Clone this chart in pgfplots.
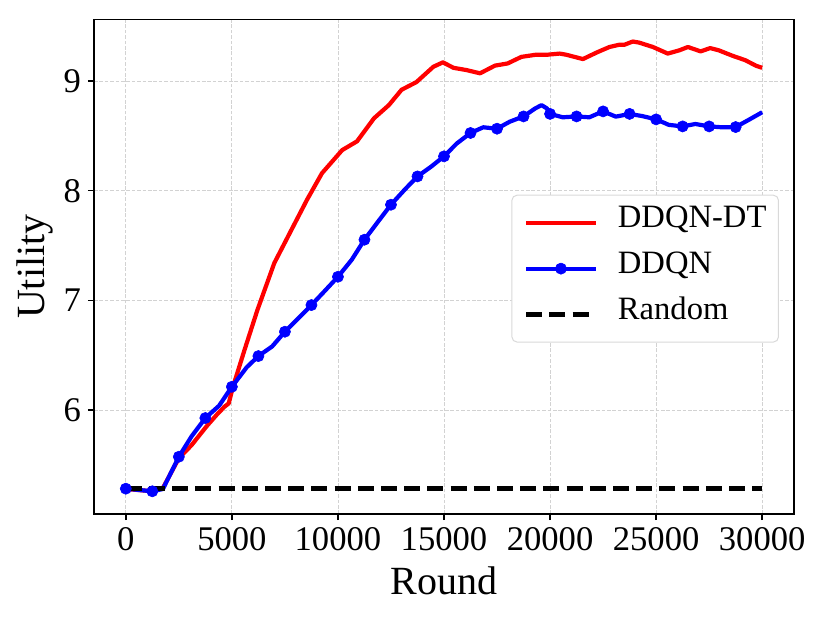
\documentclass[border=0pt]{standalone}
\usepackage{fontspec}
\setmainfont{Liberation Serif}
\usepackage{pgfplots}
\pgfplotsset{compat=1.18}
\pgfplotsset{
  legline/.style={legend image code/.code={\draw[##1] plot coordinates {(0pt,0pt) (34.7pt,0pt)};}},
  legmark/.style={legend image code/.code={\draw[##1, mark indices={2}] plot coordinates {(0pt,0pt) (17.35pt,0pt) (34.7pt,0pt)};}},
}
\begin{document}
\begin{tikzpicture}
\begin{axis}[
  at={(0,0)}, anchor=south west,
  scale only axis, width=350pt, height=247.35pt,
  xmin=-1500, xmax=31500, ymin=5.052, ymax=9.5625,
  xtick={0,5000,10000,15000,20000,25000,30000},
  ytick={6,7,8,9},
  scaled x ticks=false,
  /pgf/number format/assume math mode=true,
  xticklabel style={/pgf/number format/1000 sep={}},
  tick label style={font=\fontsize{17.3}{20}\selectfont, text=black},
  tick align=outside, tick pos=left, major tick length=3pt,
  every tick/.style={black, line width=0.8pt},
  axis line style={line width=0.8pt, black},
  grid=major, grid style={gray!35, line width=0.4pt, dash pattern=on 1.8pt off 0.9pt},
  xlabel={Round}, ylabel={Utility},
  label style={font=\fontsize{20}{24}\selectfont},
  xlabel style={at={(axis description cs:0.5,-0.1637)}, anchor=base},
  ylabel style={at={(axis description cs:-0.0704,0.5)}, anchor=base},
  legend cell align=left,
  legend style={at={(0.9785,0.496)}, anchor=east,
    draw=gray!30, line width=0.5pt, rounded corners=2.5pt, fill=white,
    font=\fontsize{16.3}{19}\selectfont,
    inner xsep=6pt, inner ysep=6.3pt, row sep=7.9pt, column sep=10pt,
    nodes={inner sep=0pt, text height=10pt, text depth=5pt}},
  legline,
]
\addplot[red, line width=2.1pt, line join=round] coordinates {
(0,5.28) (1250,5.26) (1750,5.29) (2000,5.38) (2500,5.56) (3100,5.68)
(3800,5.85) (4300,5.96) (4650,6.03) (4850,6.06) (5050,6.21) (5600,6.55)
(6200,6.91) (7000,7.34) (7800,7.64) (8550,7.92) (9250,8.16) (10200,8.37)
(10900,8.45) (11700,8.66) (12400,8.78) (13000,8.92) (13700,8.99) (14500,9.13)
(14950,9.17) (15450,9.12) (16050,9.10) (16700,9.07) (17400,9.14) (18000,9.16)
(18650,9.22) (19350,9.24) (19900,9.24) (20450,9.25) (20750,9.24) (21550,9.20)
(22200,9.26) (22800,9.31) (23250,9.33) (23500,9.33) (23900,9.36) (24200,9.35)
(24850,9.31) (25550,9.25) (26100,9.28) (26500,9.31) (27100,9.27) (27550,9.30)
(27950,9.28) (28600,9.23) (29200,9.19) (29700,9.14) (30000,9.12)
};
\addlegendentry{DDQN-DT}
\addplot[blue, line width=2.1pt, line join=round, mark=*, mark size=2.8pt,
  mark options={solid, fill=blue, draw=blue, line width=0.3pt},
  mark indices={1,2,4,6,8,10,12,14,16,18,20,22,24,26,28,30,34,36,38,40,42,44,46,48},
  legmark]
coordinates {
(0,5.283) (1250,5.259) (1750,5.28) (2500,5.574) (3100,5.76) (3750,5.927)
(4400,6.04) (5000,6.212) (5700,6.39) (6250,6.492) (6900,6.58) (7500,6.714)
(8100,6.83) (8750,6.957) (9350,7.08) (10000,7.215) (10650,7.37) (11250,7.553)
(11900,7.72) (12500,7.872) (13150,8.01) (13750,8.130) (14400,8.22) (15000,8.313)
(15600,8.43) (16250,8.526) (16850,8.578) (17500,8.565) (18100,8.629) (18750,8.677)
(19300,8.75) (19600,8.78) (19850,8.75) (20000,8.70) (20600,8.669) (21250,8.677)
(21850,8.669) (22500,8.723) (23100,8.675) (23750,8.70) (24350,8.68) (25000,8.65)
(25600,8.60) (26250,8.586) (26850,8.608) (27500,8.586) (28100,8.578) (28750,8.58)
(29350,8.644) (30000,8.715)
};
\addlegendentry{DDQN}
\addplot[black, line width=2.3pt, dash pattern=on 8pt off 3.6pt] coordinates {
(0,5.283) (30000,5.283)
};
\addlegendentry{Random}
\end{axis}
\pgfresetboundingbox
\path[use as bounding box] ([shift={(-47pt,-54.5pt)}]current axis.south west) rectangle ([shift={(18pt,9.65pt)}]current axis.north east);
\end{tikzpicture}
\end{document}
